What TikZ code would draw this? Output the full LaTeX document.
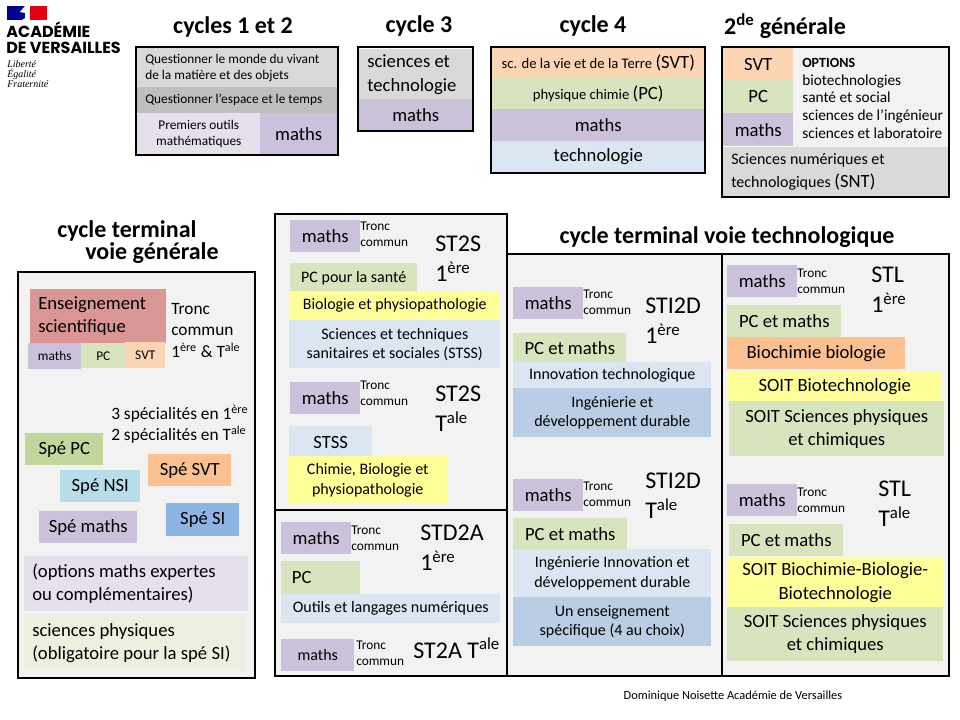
\documentclass[tikz,border=0pt]{standalone}
\usepackage{fontspec}
\setmainfont{Carlito}
\newfontfamily\logosans{Poppins}
\newfontfamily\logoserif{Liberation Serif}
\definecolor{gris}{HTML}{D9D9D9}
\definecolor{grisfonce}{HTML}{BFBFBF}
\definecolor{fond}{HTML}{F2F2F2}
\definecolor{lilas}{HTML}{CCC1DA}
\definecolor{lilasclair}{HTML}{E6E0EC}
\definecolor{vert}{HTML}{D7E4BD}
\definecolor{vertfonce}{HTML}{C3D69B}
\definecolor{vertclair}{HTML}{EBF1DE}
\definecolor{peche}{HTML}{FCD5B5}
\definecolor{orange}{HTML}{FAC090}
\definecolor{bleu}{HTML}{DCE6F2}
\definecolor{bleumoyen}{HTML}{B9CDE5}
\definecolor{bleufort}{HTML}{8EB4E3}
\definecolor{turquoise}{HTML}{B7DEE8}
\definecolor{rouge}{HTML}{D99694}
\definecolor{jaune}{HTML}{FFFF99}
\tikzset{
  bloc/.style 2 args={anchor=north west, inner sep=0pt, align=flush center,
    minimum width=#1*0.75pt, minimum height=#2*0.75pt},
  blocg/.style 2 args={anchor=north west, inner xsep=6pt, inner ysep=0pt, align=flush left,
    text width=(#1-16)*0.75pt, minimum height=#2*0.75pt},
  cadre/.style={draw=black, line width=1.5pt},
  titre/.style={font=\fontsize{18}{14.5}\selectfont\bfseries},
  tronc/.style={anchor=north west, inner sep=0pt, align=flush left, font=\fontsize{10}{12}\selectfont},
  filiere/.style={anchor=north west, inner sep=0pt, align=flush left, font=\fontsize{18}{22.5}\selectfont},
  libre/.style={anchor=north west, inner sep=0pt, align=flush left, font=\fontsize{13}{16}\selectfont},
  f10/.style={font=\fontsize{10}{12}\selectfont},
  f11/.style={font=\fontsize{11}{13}\selectfont},
  f12/.style={font=\fontsize{12}{14.5}\selectfont},
  f14/.style={font=\fontsize{14}{17.5}\selectfont}
}
\newcommand{\ere}{\textsuperscript{ère}}
\newcommand{\ale}{\textsuperscript{ale}}
\begin{document}
\begin{tikzpicture}[x=0.75pt, y=-0.75pt]
\useasboundingbox (0,0) rectangle (960,720);

% logo
\fill[fill={rgb,255:red,0;green,0;blue,145}] (7,6) rectangle (25,20);
\fill[fill={rgb,255:red,225;green,0;blue,15}] (30,6) rectangle (47,20);
\fill[white] (25,6) -- (29,6) -- (30,12) -- (27,17) -- (22,20) -- (25,20) -- (25,13) -- (20,12) -- cycle;
\node[anchor=base west, inner sep=0pt, font=\logosans\bfseries\fontsize{12}{12}\selectfont] (academie) at (6,38) {ACADÉMIE};
\node[anchor=base west, inner sep=0pt, font=\logosans\bfseries\fontsize{12}{12}\selectfont] (versailles) at (6,54) {DE VERSAILLES};
\node[anchor=north west, inner sep=0pt, align=flush left, font=\logoserif\itshape\fontsize{7.5}{7.5}\selectfont] (devise) at (7,60) {Liberté\\Égalité\\Fraternité};

% titres
\node[titre] (t12) at (233,27) {cycles 1 et 2};
\node[titre] (t3) at (419,26) {cycle 3};
\node[titre] (t4) at (593,26) {cycle 4};
\node[titre] (t2de) at (785,26) {2\textsuperscript{de} générale};
\node[titre, anchor=north west, inner sep=0pt, align=flush left] (tgen) at (57,220) {cycle terminal\\\hspace{21pt}voie générale};
\node[titre] (ttech) at (727,237) {cycle terminal voie technologique};

% cycles 1 et 2
\node[blocg={200}{39}, fill=gris, f10] (monde) at (137,48) {Questionner le monde du vivant\\de la matière et des objets};
\node[blocg={200}{26}, fill=grisfonce, f10] (espace) at (137,87) {Questionner l’espace et le temps};
\node[bloc={123}{41}, fill=lilasclair, f10] (outils) at (137,113) {Premiers outils\\mathématiques};
\node[bloc={77}{41}, fill=lilas, f14] (maths12) at (260,113) {maths};
\draw[cadre] (136,47) rectangle (338,155);

% cycle 3
\node[blocg={113}{51}, fill=gris, f14] (scitech) at (359,49) {sciences et\\technologie};
\node[bloc={113}{31}, fill=lilas, f14] (maths3) at (359,99) {maths};
\draw[cadre] (358,47) rectangle (473,131);

% cycle 4
\node[bloc={212}{30}, fill=peche, f11] (svt4) at (492,48) {sc. de la vie et de la Terre {\fontsize{14}{14}\selectfont(SVT)}};
\node[bloc={212}{31}, fill=vert, f11] (pc4) at (492,78) {physique chimie {\fontsize{14}{14}\selectfont(PC)}};
\node[bloc={212}{32}, fill=lilas, f14] (maths4) at (492,109) {maths};
\node[bloc={212}{31}, fill=bleu, f14] (techno4) at (492,141) {technologie};
\draw[cadre] (491,47) rectangle (705,173);

% seconde
\node[bloc={70}{32}, fill=peche, f14] (svt2) at (723,48) {SVT};
\node[bloc={70}{33}, fill=vert, f14] (pc2) at (723,80) {PC};
\node[bloc={70}{33}, fill=lilas, f14] (maths2) at (723,113) {maths};
\node[bloc={155}{99}, fill=fond] (options) at (793,48) {};
\node[libre, font=\fontsize{11.5}{13.3}\selectfont] (optionstxt) at (802,58) {{\fontsize{10.5}{11}\selectfont\bfseries OPTIONS}\\biotechnologies\\santé et social\\sciences de l’ingénieur\\sciences et laboratoire};
\node[blocg={225}{49}, fill=gris, font=\fontsize{12}{17}\selectfont] (snt) at (723,147) {Sciences numériques et\\technologiques {\fontsize{14}{14}\selectfont(SNT)}};
\draw[cadre] (722,47) rectangle (949,197);

% grands cadres
\draw[cadre, fill=fond] (18,272) rectangle (255,678);
\draw[cadre, fill=fond] (275,214) rectangle (507,510);
\draw[cadre, fill=fond] (275,510) rectangle (507,676);
\draw[cadre, fill=fond] (507,254) rectangle (722,676);
\draw[cadre, fill=fond] (722,254) rectangle (949,676);

% voie generale
\node[blocg={136}{54}, fill=rouge, f14] (ens) at (30,289) {Enseignement\\scientifique};
\node[bloc={53}{26}, fill=lilas, f10] (mathsens) at (28,343) {maths};
\node[bloc={44}{25}, fill=vert, f10] (pcens) at (81,343) {PC};
\node[bloc={40}{26}, fill=peche, f10] (svtens) at (125,342) {SVT};
\node[libre] (tronc) at (171,303) {Tronc\\commun\\1\ere{} \& T\ale};
\node[libre] (specialites) at (111,405) {3 spécialités en 1\ere\\2 spécialités en T\ale};
\node[bloc={78}{32}, fill=vertfonce, f14] (spepc) at (25,433) {Spé PC};
\node[bloc={80}{32}, fill=turquoise, f14] (spensi) at (60,470) {Spé NSI};
\node[bloc={83}{32}, fill=orange, f14] (spesvt) at (148,454) {Spé SVT};
\node[bloc={73}{33}, fill=bleufort, f14] (spesi) at (166,503) {Spé SI};
\node[bloc={98}{32}, fill=lilas, f14] (spemaths) at (39,511) {Spé maths};
\node[blocg={224}{55}, fill=lilasclair, f14] (expertes) at (24,556) {(options maths expertes\\ou complémentaires)};
\node[blocg={222}{56}, fill=vertclair, f14] (sciphys) at (24,615) {sciences physiques\\(obligatoire pour la spé SI)};

% maths et tronc commun, repetes dans chaque filiere
\foreach \n/\x/\y/\tx/\ty in {a/290/220/360/222, b/290/382/360/381, c/281/522/351/526, d/513/287/583/290,
  e/513/479/583/482, f/727/265/797/269, g/727/484/797/488}{
   \node[bloc={70}{32}, fill=lilas, f14] (maths\n) at (\x,\y) {maths};
   \node[tronc] (tronc\n) at (\tx,\ty) {Tronc\\commun};
   }
\node[bloc={73}{32}, fill=lilas, f12] (mathsh) at (281,639) {maths};
\node[tronc] (tronch) at (356,641) {Tronc\\commun};

% ST2S
\node[filiere] (st2s) at (435,236) {ST2S\\1\ere};
\node[bloc={127}{29}, fill=vert, f12] (pcsante) at (290,263) {PC pour la santé};
\node[bloc={211}{29}, fill=jaune, f12] (biophys) at (289,291) {Biologie et physiopathologie};
\node[bloc={211}{48}, fill=bleu, f12] (stss) at (289,320) {Sciences et techniques\\sanitaires et sociales (STSS)};
\node[filiere] (st2st) at (435,386) {ST2S\\T\ale};
\node[bloc={83}{32}, fill=bleu, f14] (stsst) at (289,426) {STSS};
\node[bloc={159}{48}, fill=jaune, f12] (chimie) at (288,456) {Chimie, Biologie et\\physiopathologie};

% STD2A
\node[filiere] (std2a) at (420,525) {STD2A\\1\ere};
\node[blocg={73}{33}, fill=vert, f14, inner xsep=8pt] (pcd) at (281,561) {PC};
\node[bloc={219}{29}, fill=bleu, f12] (langages) at (281,594) {Outils et langages numériques};
\node[filiere] (st2a) at (413,638) {ST2A T\ale};

% STI2D
\node[filiere] (sti1) at (645,298) {STI2D\\1\ere};
\node[bloc={113}{30}, fill=vert, f14] (pcsti1) at (513,333) {PC et maths};
\node[bloc={198}{26}, fill=bleu, f12] (innov) at (513,362) {Innovation technologique};
\node[bloc={198}{49}, fill=bleumoyen, f12] (idd) at (513,388) {Ingénierie et\\développement durable};
\node[filiere] (stit) at (645,473) {STI2D\\T\ale};
\node[bloc={114}{31}, fill=vert, f14] (pcsti2) at (513,518) {PC et maths};
\node[bloc={198}{48}, fill=bleu, f12] (iidd) at (513,549) {Ingénierie Innovation et\\développement durable};
\node[bloc={198}{49}, fill=bleumoyen, f12] (specif) at (513,597) {Un enseignement\\spécifique (4 au choix)};

% STL
\node[filiere] (stl1) at (871,267) {STL\\1\ere};
\node[bloc={114}{32}, fill=vert, f14] (pcstl1) at (727,305) {PC et maths};
\node[bloc={178}{32}, fill=orange, f14] (biochimie) at (727,337) {Biochimie biologie};
\node[bloc={215}{30}, fill=jaune, f14] (biotech) at (727,371) {SOIT Biotechnologie};
\node[bloc={215}{55}, fill=vert, f14] (scp1) at (729,401) {SOIT Sciences physiques\\et chimiques};
\node[filiere] (stlt) at (878,481) {STL\\T\ale};
\node[bloc={114}{32}, fill=vert, f14] (pcstl2) at (729,524) {PC et maths};
\node[bloc={216}{49}, fill=jaune, f14] (bbb) at (727,558) {SOIT Biochimie-Biologie-\\Biotechnologie};
\node[bloc={216}{54}, fill=vert, f14] (scp2) at (727,607) {SOIT Sciences physiques\\et chimiques};

\node[font=\fontsize{9.3}{9.3}\selectfont] (auteur) at (733,696) {Dominique Noisette Académie de Versailles};
\end{tikzpicture}
\end{document}
